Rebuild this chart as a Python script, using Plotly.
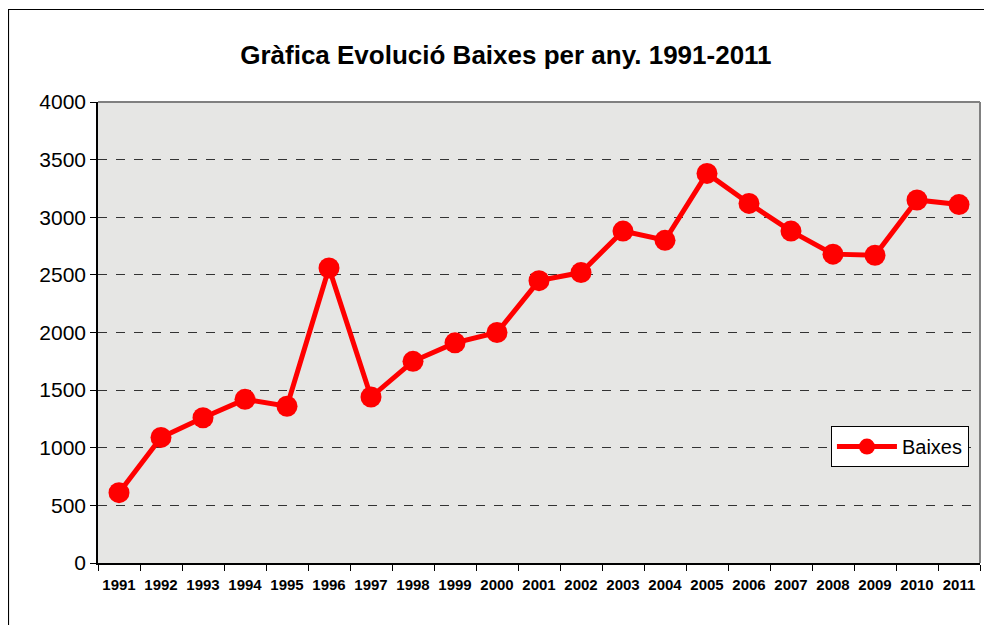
import plotly.graph_objects as go

years = [str(y) for y in range(1991, 2012)]
baixes = [610, 1090, 1260, 1420, 1360, 2560, 1440, 1750, 1910, 2000, 2450,
          2520, 2880, 2800, 3380, 3120, 2880, 2680, 2670, 3150, 3110]
y_ticks = [0, 500, 1000, 1500, 2000, 2500, 3000, 3500, 4000]

FONT = "Liberation Sans, Arial"

fig = go.Figure()
fig.add_trace(go.Scatter(
    x=years, y=baixes, mode="lines+markers", name="Baixes",
    line=dict(color="#ff0000", width=5),
    marker=dict(color="#ff0000", size=21),
))

fig.update_layout(
    width=984, height=617,
    margin=dict(l=90, r=12, t=94, b=62),
    paper_bgcolor="white",
    plot_bgcolor="#e6e6e4",
    title=dict(text="<b>Gràfica Evolució Baixes per any. 1991-2011</b>",
               x=0.506, xanchor="center", xref="container",
               y=0.924, yanchor="middle", yref="container",
               font=dict(family=FONT, size=26, color="black")),
    font=dict(family=FONT, color="black"),
    showlegend=True,
    legend=dict(x=0.831, y=0.297, xanchor="left", yanchor="top",
                bgcolor="white", bordercolor="black", borderwidth=1,
                font=dict(size=20, family=FONT), itemwidth=60,
                tracegroupgap=0),
    xaxis=dict(type="category", range=[-0.5, 20.5], showgrid=False,
               ticks="outside", tickson="boundaries", ticklen=6, tickcolor="black",
               showline=True, linecolor="black", linewidth=1.5,
               tickangle=0, ticklabelstandoff=7,
               tickfont=dict(size=15, family=FONT),
               tickprefix="<b>", ticksuffix="</b>"),
    yaxis=dict(range=[0, 4000], tickvals=y_ticks, showgrid=True,
               gridcolor="#333333", griddash="dash", gridwidth=1,
               ticks="outside", ticklen=6, tickcolor="black",
               showline=True, linecolor="black", linewidth=1.5,
               tickfont=dict(size=21, family=FONT),
               zeroline=False),
    shapes=[
        dict(type="line", xref="paper", yref="paper", x0=0, x1=1, y0=1, y1=1,
             line=dict(color="#808080", width=2)),
        dict(type="line", xref="paper", yref="paper", x0=1, x1=1, y0=0, y1=1,
             line=dict(color="#808080", width=2)),
        dict(type="rect", xref="paper", yref="paper", x0=-0.1015, x1=1.05,
             y0=-0.2, y1=1.2007, line=dict(color="black", width=1.2),
             fillcolor="rgba(0,0,0,0)", layer="below"),
    ],
)

fig.write_html("out.html")
